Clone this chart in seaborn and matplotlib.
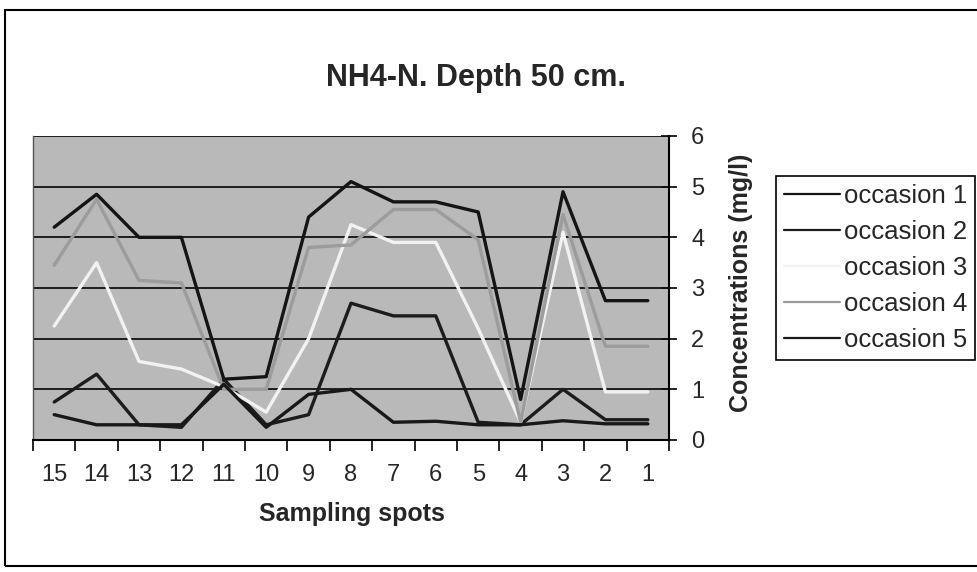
import numpy as np
import pandas as pd
import matplotlib
matplotlib.use("Agg")
import matplotlib.pyplot as plt
import matplotlib.patches as mpatches
import seaborn as sns

# ---- data ----
spots = ["15", "14", "13", "12", "11", "10", "9", "8", "7", "6", "5", "4", "3", "2", "1"]
occasion_1 = [4.2, 4.85, 4.0, 4.0, 1.2, 1.25, 4.4, 5.1, 4.7, 4.7, 4.5, 0.8, 4.9, 2.75, 2.75]
occasion_2 = [0.75, 1.3, 0.3, 0.25, 1.2, 0.3, 0.5, 2.7, 2.45, 2.45, 0.35, 0.3, 1.0, 0.4, 0.4]
occasion_3 = [2.25, 3.5, 1.55, 1.4, 1.05, 0.55, 2.0, 4.25, 3.9, 3.9, 2.2, 0.35, 4.1, 0.95, 0.95]
occasion_4 = [3.45, 4.75, 3.15, 3.1, 1.0, 1.0, 3.8, 3.85, 4.55, 4.55, 3.95, 0.35, 4.45, 1.85, 1.85]
occasion_5 = [0.5, 0.3, 0.3, 0.3, 1.1, 0.25, 0.9, 1.0, 0.35, 0.37, 0.3, 0.3, 0.38, 0.32, 0.32]
series_names = ["occasion 1", "occasion 2", "occasion 3", "occasion 4", "occasion 5"]
y_ticks = [0, 1, 2, 3, 4, 5, 6]

series = [occasion_1, occasion_2, occasion_3, occasion_4, occasion_5]
rows = []
for name, vals in zip(series_names, series):
    for i, (s, v) in enumerate(zip(spots, vals)):
        rows.append({"pos": i, "spot": s, "occasion": name, "value": v})
df = pd.DataFrame(rows)

sns.set_theme(style="white")
plt.rcParams["font.family"] = ["Liberation Sans", "DejaVu Sans"]

palette = {"occasion 1": "#141414", "occasion 2": "#1c1c1c", "occasion 3": "#f2f2f2",
           "occasion 4": "#9c9c9c", "occasion 5": "#181818"}

W, H = 977, 572
fig = plt.figure(figsize=(W / 100, H / 100), dpi=100)
fig.patch.set_facecolor("white")

L, R, T, B = 33, 669, 136, 440
ax = fig.add_axes([L / W, 1 - B / H, (R - L) / W, (B - T) / H])
ax.set_facecolor("#b9b9b9")

sns.lineplot(data=df, x="pos", y="value", hue="occasion", hue_order=series_names,
             palette=palette, linewidth=2.4, sort=False, legend=False, ax=ax, zorder=3)

ax.set_xlim(-0.5, len(spots) - 0.5)
ax.set_ylim(0, 6)
for y in y_ticks[1:]:
    ax.axhline(y, color="#111111", lw=1.3, zorder=1)

# y axis on right
ax.yaxis.tick_right()
ax.set_yticks(y_ticks)
ax.set_yticklabels([str(v) for v in y_ticks], fontsize=17)
ax.tick_params(axis="y", which="major", direction="inout", length=12, width=1.2,
               color="black", pad=10, right=True, left=False)

# x axis: tick marks at category boundaries, labels at centres
ax.set_xticks(np.arange(-0.5, len(spots), 1.0))
ax.set_xticklabels([])
ax.set_xticks(np.arange(len(spots)), minor=True)
ax.set_xticklabels(spots, minor=True, fontsize=17)
ax.tick_params(axis="x", which="major", direction="out", length=8, width=1.2,
               color="black", bottom=True)
ax.tick_params(axis="x", which="minor", length=0, pad=17)
ax.set_xlabel("")
ax.set_ylabel("")

ax.spines["top"].set_visible(False)
ax.spines["left"].set_color("#555555")
ax.spines["left"].set_linewidth(1.0)
ax.spines["bottom"].set_color("black")
ax.spines["bottom"].set_linewidth(1.5)
ax.spines["right"].set_color("black")
ax.spines["right"].set_linewidth(1.5)

# labels and title
fig.text(476 / W, 1 - 78 / H, "NH4-N. Depth 50 cm.", fontsize=22, fontweight="bold",
         ha="center", va="center")
fig.text(352 / W, 1 - 514 / H, "Sampling spots", fontsize=18, fontweight="bold",
         ha="center", va="center")
fig.text(741 / W, 1 - 283 / H, "Concentrations (mg/l)", fontsize=18, fontweight="bold",
         rotation=90, ha="center", va="center")

# legend
handles = [plt.Line2D([], [], color=palette[n], lw=1.6) for n in series_names]
leg = fig.legend(handles, series_names, loc="upper left",
                 bbox_to_anchor=(776 / W, 1 - 176 / H), fontsize=18.5,
                 frameon=True, fancybox=False, edgecolor="black", framealpha=1,
                 handlelength=2.2, handletextpad=0.15, labelspacing=0.47,
                 borderpad=0.3, borderaxespad=0)
leg.get_frame().set_linewidth(1.2)

# outer chart border
fig.patches.append(mpatches.Rectangle((5 / W, 1 - 566 / H), 1.0, (566 - 10) / H,
                                      transform=fig.transFigure, fill=False,
                                      edgecolor="black", lw=1.5))

fig.savefig("out.png", dpi=100)
